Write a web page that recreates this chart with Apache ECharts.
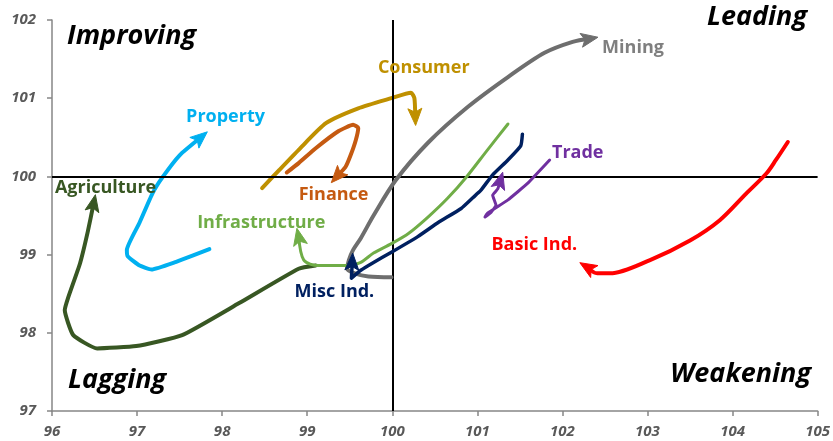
<!DOCTYPE html>
<html><head><meta charset="utf-8">
<script src="https://cdn.jsdelivr.net/npm/echarts@6/dist/echarts.min.js"></script>
<style>html,body{margin:0;padding:0;background:#fff}#c{width:833px;height:441px}</style>
</head><body><div id="c"></div>
<script>
const xTicks = [96, 97, 98, 99, 100, 101, 102, 103, 104, 105];
const yTicks = [97, 98, 99, 100, 101, 102];

const agriculture = [[99.10,98.86],[98.90,98.82],[98.20,98.38],[97.53,97.97],[96.99,97.83],[96.53,97.80],[96.25,97.97],[96.15,98.29],[96.19,98.45],[96.33,98.89],[96.42,99.29],[96.49,99.66]];
const property = [[97.85,99.07],[97.44,98.90],[97.17,98.81],[97.03,98.86],[96.89,98.98],[96.88,99.06],[97.03,99.41],[97.18,99.78],[97.30,99.99],[97.50,100.27],[97.75,100.50]];
const consumer = [[98.47,99.85],[98.67,100.08],[98.90,100.34],[99.22,100.68],[99.60,100.87],[99.99,101.00],[100.22,101.07],[100.26,101.00],[100.27,100.76]];
const finance = [[98.76,100.05],[98.90,100.17],[99.10,100.36],[99.37,100.58],[99.54,100.66],[99.60,100.62],[99.57,100.46],[99.51,100.27],[99.45,100.12],[99.35,100.00]];
const mining = [[99.99,98.71],[99.72,98.72],[99.56,98.76],[99.47,98.82],[99.49,98.93],[99.54,99.06],[99.63,99.21],[99.78,99.50],[100.04,99.95],[100.42,100.43],[100.89,100.89],[101.36,101.27],[101.79,101.58],[102.12,101.72],[102.32,101.76]];
const infrastructure = [[101.36,100.67],[101.12,100.34],[100.87,99.99],[100.65,99.72],[100.42,99.48],[100.19,99.27],[99.99,99.14],[99.78,99.02],[99.63,98.90],[99.49,98.86],[99.13,98.86],[98.96,98.93],[98.90,99.23]];
const miscInd = [[101.53,100.54],[101.51,100.39],[101.36,100.21],[101.18,100.02],[101.04,99.82],[100.95,99.73],[100.81,99.59],[100.54,99.41],[100.30,99.23],[99.99,99.03],[99.78,98.90],[99.63,98.80],[99.52,98.70],[99.53,98.91]];
const trade = [[101.85,100.21],[101.59,99.91],[101.36,99.70],[101.12,99.53],[101.09,99.48],[101.16,99.54],[101.22,99.63],[101.18,99.76],[101.24,99.84],[101.27,99.95]];
const basicInd = [[104.65,100.44],[104.51,100.21],[104.40,100.04],[104.16,99.78],[103.85,99.44],[103.50,99.18],[103.03,98.93],[102.56,98.76],[102.41,98.76],[102.29,98.84]];

const seriesNames = ['Agriculture','Property','Consumer','Finance','Mining','Infrastructure','Misc Ind.','Trade','Basic Ind.'];
const seriesData = [agriculture, property, consumer, finance, mining, infrastructure, miscInd, trade, basicInd];
const labelAnchors = [[96.63,99.85],[98.04,100.76],[100.37,101.39],[99.31,99.76],[102.83,101.64],[98.46,99.40],[101.67,99.12],[99.32,98.52],[102.18,100.30]];
const labelNames = ['Agriculture','Property','Consumer','Finance','Mining','Infrastructure','Basic Ind.','Misc Ind.','Trade'];
const quadrantNames = ['Improving','Leading','Lagging','Weakening'];

const styleMap = {
  'Agriculture': {c:'#385723', w:4, smooth:0.15},
  'Property': {c:'#00b0f0', w:4, smooth:0.15},
  'Consumer': {c:'#bf9000', w:4, smooth:0.2},
  'Finance': {c:'#c55a11', w:4, smooth:0.15},
  'Mining': {c:'#6e6e6e', w:4, smooth:0.3},
  'Infrastructure': {c:'#70ad47', w:3, smooth:0.3},
  'Misc Ind.': {c:'#002060', w:3.5, smooth:0.15},
  'Trade': {c:'#7030a0', w:3, smooth:0.1},
  'Basic Ind.': {c:'#ff0000', w:4, smooth:0.3}
};
const labelColor = {'Agriculture':'#385723','Property':'#00b0f0','Consumer':'#bf9000','Finance':'#c55a11','Mining':'#7f7f7f','Infrastructure':'#70ad47','Misc Ind.':'#002060','Trade':'#7030a0','Basic Ind.':'#ff0000'};

const ARROW_LEN = 17, ARROW_W = 14;
const series = [];
seriesNames.forEach((n, i) => {
  const d = seriesData[i];
  const s = styleMap[n];
  series.push({
    type:'line', name:n, data:d, smooth:s.smooth, showSymbol:false, symbol:'none',
    lineStyle:{color:s.c, width:s.w, cap:'round', join:'round'}, silent:true, z:2+i
  });
  series.push({
    type:'custom', silent:true, z:2+i,
    data:[[d[d.length-2][0], d[d.length-2][1], d[d.length-1][0], d[d.length-1][1]]],
    renderItem:function(params, api){
      const p1 = api.coord([api.value(0), api.value(1)]);
      const p2 = api.coord([api.value(2), api.value(3)]);
      let dx = p2[0]-p1[0], dy = p2[1]-p1[1];
      const len = Math.sqrt(dx*dx+dy*dy) || 1;
      dx/=len; dy/=len;
      const px = -dy, py = dx;
      const tip = [p2[0]+dx*ARROW_LEN*0.5, p2[1]+dy*ARROW_LEN*0.5];
      const base = [tip[0]-dx*ARROW_LEN, tip[1]-dy*ARROW_LEN];
      const notch = [tip[0]-dx*ARROW_LEN*0.78, tip[1]-dy*ARROW_LEN*0.78];
      return {type:'polygon', shape:{points:[tip,
        [base[0]+px*ARROW_W/2, base[1]+py*ARROW_W/2], notch,
        [base[0]-px*ARROW_W/2, base[1]-py*ARROW_W/2]]},
        style:{fill:s.c, stroke:s.c, lineWidth:1, lineJoin:'miter'}};
    }
  });
});
series.push({
  type:'line', data:[], z:1, silent:true,
  markLine:{symbol:['none','none'], silent:true, label:{show:false},
    lineStyle:{color:'#000', width:2, type:'solid'},
    data:[{xAxis:100},{yAxis:100}]}
});
series.push({
  type:'scatter', symbolSize:0, silent:true, z:20, itemStyle:{opacity:1},
  data: labelNames.map((n,i)=>({value:labelAnchors[i], name:n,
    label:{show:true, position:'inside', formatter:n, color:labelColor[n], opacity:1,
      fontFamily:'Open Sans', fontWeight:'bold', fontSize:18}}))
});

const qStyle = {fontFamily:'Open Sans', fontWeight:'bold', fontStyle:'italic', fontSize:27, fill:'#000'};
const chart = echarts.init(document.getElementById('c'), null, {renderer:'canvas'});
chart.setOption({
  animation:false,
  grid:{left:52, right:12, top:20, bottom:30, containLabel:false},
  xAxis:{type:'value', min:xTicks[0], max:xTicks[xTicks.length-1], interval:1,
    axisLine:{show:true, onZero:false, lineStyle:{color:'#868686', width:1.5}},
    axisTick:{show:true, length:5, lineStyle:{color:'#868686', width:1.5}},
    axisLabel:{color:'#595959', fontFamily:'Open Sans', fontWeight:'bold', fontStyle:'italic', fontSize:15, margin:13},
    splitLine:{show:false}},
  yAxis:{type:'value', min:yTicks[0], max:yTicks[yTicks.length-1], interval:1,
    axisLine:{show:true, onZero:false, lineStyle:{color:'#868686', width:1.5}},
    axisTick:{show:true, length:5, lineStyle:{color:'#868686', width:1.5}},
    axisLabel:{color:'#595959', fontFamily:'Open Sans', fontWeight:'bold', fontStyle:'italic', fontSize:15, margin:16},
    splitLine:{show:false}},
  graphic:[
    {type:'text', left:67, top:23, style:Object.assign({text:quadrantNames[0]}, qStyle)},
    {type:'text', right:26, top:4, style:Object.assign({text:quadrantNames[1]}, qStyle)},
    {type:'text', left:68, top:367, style:Object.assign({text:quadrantNames[2]}, qStyle)},
    {type:'text', right:22, top:361, style:Object.assign({text:quadrantNames[3]}, qStyle)}
  ],
  series: series
});
</script></body></html>
